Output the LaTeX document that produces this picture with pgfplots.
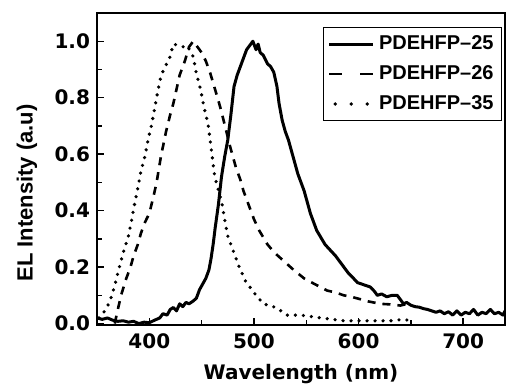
\documentclass[border=0pt]{standalone}
\usepackage{pgfplots}
\pgfplotsset{compat=1.18}
\usepackage{fontspec}
\setmainfont{Liberation Sans}
\newfontfamily\gothic{DejaVu Sans}
\begin{document}
\begin{tikzpicture}
\begin{axis}[
  scale only axis, width=204pt, height=156pt,
  xmin=350, xmax=740, ymin=-0.005, ymax=1.1,
  xtick={400,500,600,700}, ytick={0,0.2,0.4,0.6,0.8,1.0},
  minor x tick num=1, minor y tick num=1,
  xtick pos=bottom, ytick pos=left,
  tick align=inside,
  major tick length=3.5pt, minor tick length=2.5pt,
  axis line style={line width=0.8pt},
  every tick/.style={line width=0.7pt, black},
  /pgf/number format/assume math mode=true,
  yticklabel style={/pgf/number format/.cd, fixed, fixed zerofill, precision=1},
  ticklabel style={font=\gothic\fontsize{10}{12}\selectfont\bfseries},
  xticklabel style={yshift=-1pt},
  xlabel={Wavelength (nm)},
  ylabel={EL Intensity (a.u)},
  xlabel style={font=\gothic\fontsize{10}{12}\selectfont\bfseries, at={(axis description cs:0.5,0)}, anchor=north, yshift=-16pt},
  ylabel style={font=\fontsize{11}{13}\selectfont\bfseries, at={(axis description cs:-0.172,0.423)}, anchor=center},
  legend style={at={(axis description cs:0.993,0.955)}, anchor=north east,
    font=\fontsize{10}{11}\selectfont\bfseries, draw=black, line width=0.6pt,
    row sep=2.5pt, inner sep=2pt},
  legend cell align=left,
]
\addplot[black, line width=1.5pt, line join=round,
  legend image code/.code={\draw[black,line width=1.5pt] (0pt,0pt) -- (22pt,0pt);}]
coordinates {
(350,0.02)(355,0.015)(360,0.02)(365,0.012)(370,0.008)(375,0.01)(380,0.005)(385,0.008)
(390,0.0)(395,0.005)(400,0.003)(405,0.012)(410,0.02)(413,0.035)(417,0.03)(420,0.05)
(423,0.057)(426,0.045)(429,0.07)(432,0.06)(435,0.075)(438,0.07)(442,0.08)(445,0.09)
(448,0.12)(451,0.14)(454,0.16)(457,0.19)(459,0.23)(461,0.28)(463,0.34)(466,0.42)
(469,0.52)(472,0.59)(475,0.65)(478,0.74)(481,0.84)(484,0.88)(487,0.91)(490,0.94)
(493,0.97)(496,0.985)(499,1.0)(502,0.97)(504,0.99)(506,0.96)(509,0.95)(513,0.92)
(516,0.91)(519,0.89)(522,0.84)(524,0.78)(527,0.72)(530,0.68)(533,0.65)(536,0.61)
(539,0.57)(542,0.53)(545,0.50)(548,0.47)(551,0.43)(554,0.39)(557,0.36)(560,0.33)
(564,0.305)(568,0.28)(573,0.26)(578,0.24)(582,0.22)(586,0.20)(590,0.18)(594,0.165)
(599,0.145)(603,0.14)(607,0.135)(611,0.13)(615,0.115)(618,0.10)(622,0.105)(627,0.095)
(632,0.1)(637,0.10)(640,0.085)(643,0.07)(646,0.075)(650,0.065)(654,0.06)(658,0.058)
(662,0.053)(666,0.05)(670,0.045)(674,0.04)(678,0.045)(682,0.035)(686,0.042)(690,0.03)
(694,0.045)(698,0.03)(702,0.04)(706,0.035)(710,0.05)(714,0.03)(718,0.04)(722,0.035)
(726,0.05)(730,0.035)(734,0.04)(738,0.03)(740,0.045)
};
\addlegendentry{PDEHFP–25}
\addplot[black, line width=1.3pt, dash pattern=on 4pt off 3.5pt,
  legend image code/.code={\draw[black,line width=1.3pt,dash pattern=on 6.5pt off 9pt] (0pt,0pt) -- (22pt,0pt);}]
coordinates {
(367,0.0)(369,0.035)(373,0.1)(378,0.16)(382,0.2)(385,0.24)(389,0.28)(392,0.32)(396,0.36)
(400,0.39)(404,0.45)(407,0.50)(411,0.59)(416,0.68)(420,0.74)(423,0.78)(429,0.88)(434,0.93)
(438,0.98)(442,1.0)(446,0.98)(450,0.96)(454,0.93)(458,0.89)(462,0.84)(466,0.79)(469,0.75)
(473,0.69)(477,0.63)(480,0.59)(483,0.55)(487,0.51)(490,0.47)(495,0.42)(500,0.37)(505,0.33)
(509,0.305)(513,0.28)(520,0.25)(529,0.22)(538,0.19)(548,0.16)(558,0.14)(570,0.117)
(578,0.11)(586,0.10)(593,0.095)(599,0.089)(610,0.078)(621,0.07)(630,0.068)(640,0.064)(647,0.07)
};
\addlegendentry{PDEHFP–26}
\addplot[black, line width=1.8pt, line cap=round, dash pattern=on 0pt off 4pt,
  legend image code/.code={\draw[black,line width=1.8pt,line cap=round,dash pattern=on 0pt off 8pt] (3pt,0pt) -- (22pt,0pt);}]
coordinates {
(352,0.02)(355,0.03)(358,0.05)(362,0.075)(367,0.135)(371,0.195)(375,0.25)(380,0.31)
(383,0.365)(386,0.425)(389,0.48)(392,0.54)(396,0.595)(399,0.655)(402,0.70)(405,0.76)
(408,0.82)(411,0.875)(415,0.91)(419,0.935)(423,0.99)(428,0.985)(432,0.98)(436,0.985)
(440,0.96)(442,0.945)(445,0.885)(449,0.83)(452,0.77)(456,0.71)(458,0.655)(460,0.595)
(462,0.535)(464,0.50)(469,0.435)(472,0.37)(475,0.31)(480,0.26)(486,0.20)(492,0.15)
(500,0.11)(509,0.07)(521,0.057)(532,0.03)(545,0.03)(564,0.02)(586,0.01)(608,0.01)
(631,0.01)(643,0.015)(650,0.01)
};
\addlegendentry{PDEHFP–35}
\end{axis}
\pgfresetboundingbox
\path (-48.5pt,-29.5pt) rectangle (205pt,162.5pt);
\end{tikzpicture}
\end{document}
